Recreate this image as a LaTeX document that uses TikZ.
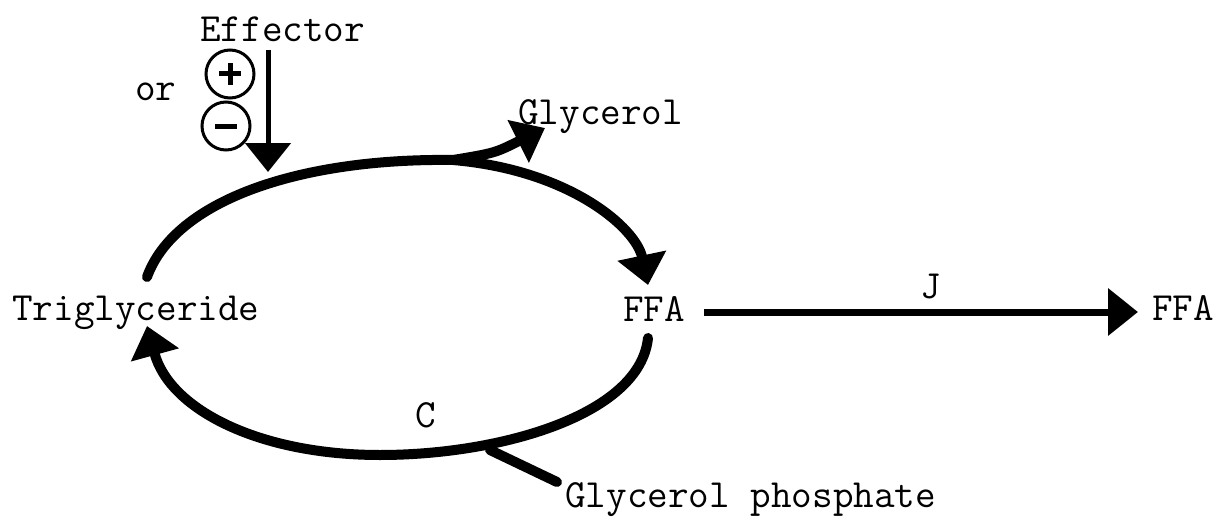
\documentclass[tikz,border=0pt]{standalone}
\usetikzlibrary{arrows.meta}
\begin{document}
\begin{tikzpicture}[x=1pt,y=-1pt,
  lbl/.style={inner sep=0pt,anchor=base west,font=\fontsize{40}{48}\selectfont\ttfamily},
  arc/.style={line width=10pt,line cap=round},
  bighead/.style={-{Triangle[length=30pt,width=48pt]}},
  circ/.style={line width=3pt}]
\useasboundingbox (0,0) rectangle (1226,519);
% labels
\node[lbl] (effector) at (200,42) {Effector};
\node[lbl] (or) at (135,100) {or};
\node[lbl] (glyc) at (518,124) {Glycerol};
\node[lbl] (tg) at (12,320) {Triglyceride};
\node[lbl] (ffa) at (623,321) {FFA};
\node[lbl] (ffa2) at (1152,320) {FFA};
\node[lbl] (j) at (920,298) {J};
\node[lbl] (c) at (415,427) {C};
\node[lbl] (gp) at (565,507) {Glycerol phosphate};
% plus / minus circles
\node[circle,circ,draw,minimum size=48pt,inner sep=0pt] (plus) at (230,74) {};
\node[circle,circ,draw,minimum size=48pt,inner sep=0pt] (minus) at (226,126) {};
\draw[line width=5pt] ([xshift=-11pt]plus.center) -- ([xshift=11pt]plus.center)
  ([yshift=-11pt]plus.center) -- ([yshift=11pt]plus.center);
\draw[line width=5pt] ([xshift=-11pt]minus.center) -- ([xshift=11pt]minus.center);
% coordinates
\coordinate (effTop) at (268,50);
\coordinate (effTip) at (268,172);
\coordinate (tgTop) at (147,277);
\coordinate (split) at (453,160);
\coordinate (ffaTop) at (648,285);
\coordinate (glTip) at (545,128);
\coordinate (ffaBot) at (648,338);
\coordinate (join) at (380,455);
\coordinate (tgBot) at (147,326);
\coordinate (gpJoin) at (490,450);
\coordinate (gpEnd) at (557,482);
\coordinate (jStart) at (704,312);
\coordinate (jTip) at (1138,312);
% effector arrow
\draw[line width=5pt,-{Triangle[length=29pt,width=45pt]}] (effTop) -- (effTip);
% top arc
\draw[arc] (tgTop) .. controls (175,200) and (300,158) .. (split);
\draw[arc,bighead] (split) .. controls (570,170) and (636,228) .. (ffaTop);
\draw[arc,-{Triangle[length=30pt,width=46pt]}] (split) .. controls (495,153) .. (glTip);
% bottom arc
\draw[arc] (ffaBot) .. controls (640,415) and (500,455) .. (join);
\draw[arc,bighead] (join) .. controls (260,455) and (170,410) .. (tgBot);
\draw[arc] (gpEnd) -- (gpJoin);
% J arrow
\draw[line width=7pt,-{Triangle[length=30pt,width=46pt]}] (jStart) -- (jTip);
\end{tikzpicture}
\end{document}
